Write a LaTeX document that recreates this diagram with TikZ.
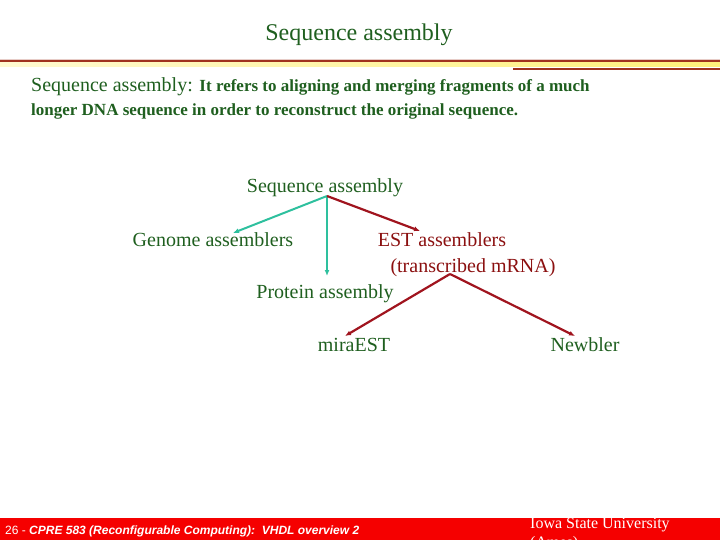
\documentclass[tikz,border=0pt]{standalone}
\usepackage{fontspec}
\setmainfont{Liberation Serif}
\newfontfamily\footfont{Liberation Sans}
\usepackage{xcolor}
\definecolor{TitleGreen}{HTML}{1F5F1F}
\definecolor{EstRed}{HTML}{8B1010}
\definecolor{ArrTeal}{HTML}{2EC09E}
\definecolor{ArrRed}{HTML}{A0141E}
\definecolor{RuleRed}{HTML}{A0321E}
\definecolor{RuleYel}{HTML}{FFF07A}
\definecolor{BarRed}{HTML}{F50000}
\usetikzlibrary{calc,arrows.meta}
\tikzset{
  txt/.style={inner sep=0pt,anchor=base,font=\fontsize{20}{24}\selectfont,text=TitleGreen},
  txtr/.style={txt,text=EstRed},
  para/.style={inner sep=0pt,anchor=base west,text=TitleGreen},
  gbr/.style={-{Latex[length=6pt,width=5pt]},draw=ArrTeal,line width=2pt},
  rbr/.style={-{Latex[length=6pt,width=5pt]},draw=ArrRed,line width=2.2pt},
  foot/.style={inner sep=0pt,anchor=base west,text=white},
}
\newcommand{\fsz}[1]{\fontsize{#1}{#1}\selectfont}

\begin{document}
\begin{tikzpicture}[x=1pt,y=-1pt]
\useasboundingbox (0,0) rectangle (720,540);
% header rules
\fill[RuleRed!25] (0,59) rectangle (720,60.5);
\fill[RuleRed] (0,60.5) rectangle (720,63);
\shade[left color=RuleYel!35,right color=RuleYel] (0,63) rectangle (720,67);
\fill[RuleRed] (513,68.5) rectangle (720,69.8);
% footer bar
\fill[BarRed] (0,518) rectangle (720,540);

\node[txt,font=\fsz{24}] (ttl) at (359,41) {Sequence assembly};
\node[para] (p1) at (31,92)
  {\fsz{20}Sequence assembly: \fsz{17}\bfseries It refers to aligning and merging fragments of a much};
\node[para] (p2) at (31,116)
  {\fsz{17}\bfseries longer DNA sequence in order to reconstruct the original sequence.};

\node[txt] (sa) at (325,193) {Sequence assembly};
\node[txt] (ga) at (213,246) {Genome assemblers};
\node[txtr] (ea) at (442,246) {EST assemblers};
\node[txtr] (tm) at (473,272) {(transcribed mRNA)};
\node[txt] (pa) at (325,298) {Protein assembly};
\node[txt] (me) at (354,351) {miraEST};
\node[txt] (nb) at (585,351) {Newbler};

\draw[gbr] ($(sa.base)+(2,3)$) -- ($(ga.base)+(20,-13)$);
\draw[gbr] ($(sa.base)+(2,3)$) -- ($(pa.base)+(2,-22)$);
\draw[rbr] ($(sa.base)+(2,3)$) -- ($(ea.base)+(-22,-15)$);
\draw[rbr] ($(tm.base)+(-23,2)$) -- ($(me.base)+(-9,-15)$);
\draw[rbr] ($(tm.base)+(-23,2)$) -- ($(nb.base)+(-10,-15)$);

\node[foot,font=\footfont\fsz{12}] (pg) at (5,534)
  {26 - \textbf{\textit{CPRE 583 (Reconfigurable Computing):\ \ VHDL overview 2}}};
\node[foot,font=\fsz{16}] (isu) at (530,528) {Iowa State University};
\node[foot,font=\fsz{16}] (ames) at (530,547) {(Ames)};
\end{tikzpicture}
\end{document}
